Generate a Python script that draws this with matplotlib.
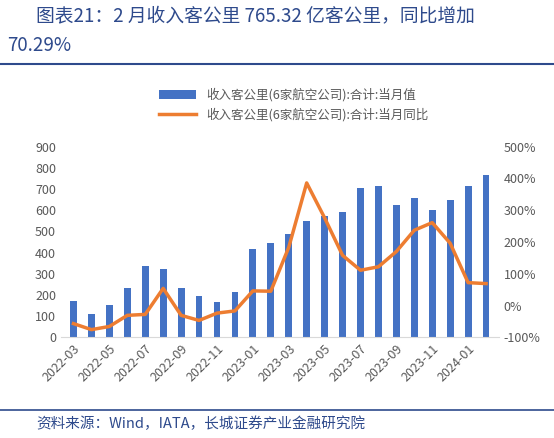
import matplotlib.pyplot as plt
import numpy as np
from matplotlib.lines import Line2D

plt.rcParams['font.family'] = ['Noto Sans CJK SC', 'DejaVu Sans']

months = ['2022-03', '2022-04', '2022-05', '2022-06', '2022-07', '2022-08', '2022-09', '2022-10',
          '2022-11', '2022-12', '2023-01', '2023-02', '2023-03', '2023-04', '2023-05', '2023-06',
          '2023-07', '2023-08', '2023-09', '2023-10', '2023-11', '2023-12', '2024-01', '2024-02']
rpk = [172, 111, 151, 234, 337, 321, 234, 194, 165, 216, 415, 447, 486, 548, 571, 591,
       703, 714, 625, 658, 603, 647, 714, 765]
yoy = [-57, -76, -66, -31, -28, 54, -31, -47, -24, -17, 46, 45, 183, 386, 276, 158,
       111, 122, 170, 237, 261, 196, 72, 69]

BLUE = '#4472C4'
ORANGE = '#ED7D31'
GREY = '#595959'
NAVY = '#2E4A8C'

fig = plt.figure(figsize=(5.54, 4.38), dpi=100)

# header / footer
fig.text(0.065, 0.965, '图表21：2 月收入客公里 765.32 亿客公里，同比增加', fontsize=13.5,
         style='italic', color=NAVY, va='center')
fig.text(0.012, 0.895, '70.29%', fontsize=13.5, style='italic', color=NAVY, va='center')
fig.add_artist(Line2D([0.0, 1.0], [0.853, 0.853], color=NAVY, lw=1.5))
fig.add_artist(Line2D([0.0, 1.0], [0.065, 0.065], color=NAVY, lw=1.2))
fig.text(0.065, 0.033, '资料来源：Wind，IATA，长城证券产业金融研究院', fontsize=10.5,
         style='italic', color=NAVY, va='center')

ax = fig.add_axes([0.11, 0.23, 0.79, 0.435])
x = np.arange(len(months))
ax.bar(x, rpk, width=0.38, color=BLUE, label='收入客公里(6家航空公司):合计:当月值')
ax.set_ylim(0, 900)
ax.set_yticks(range(0, 901, 100))
ax.set_xlim(-0.7, len(months) - 0.3)
ax.set_xticks(x[::2])
ax.set_xticklabels(months[::2], rotation=45, ha='right', rotation_mode='anchor')
for s in ['top', 'right', 'left']:
    ax.spines[s].set_visible(False)
ax.spines['bottom'].set_color('#D9D9D9')
ax.tick_params(length=0, labelsize=9, colors=GREY)

ax2 = ax.twinx()
ax2.plot(x, yoy, color=ORANGE, lw=2.5, label='收入客公里(6家航空公司):合计:当月同比')
ax2.set_ylim(-100, 500)
ax2.set_yticks(range(-100, 501, 100))
ax2.set_yticklabels([f'{v}%' for v in range(-100, 501, 100)])
for s in ax2.spines.values():
    s.set_visible(False)
ax2.tick_params(length=0, labelsize=9, colors=GREY)

h1, l1 = ax.get_legend_handles_labels()
h2, l2 = ax2.get_legend_handles_labels()
fig.legend(h1 + h2, l1 + l2, loc='upper center', bbox_to_anchor=(0.53, 0.825), ncol=1,
           frameon=False, fontsize=9, labelcolor=GREY, handlelength=3)

fig.savefig('out.png', dpi=100)
